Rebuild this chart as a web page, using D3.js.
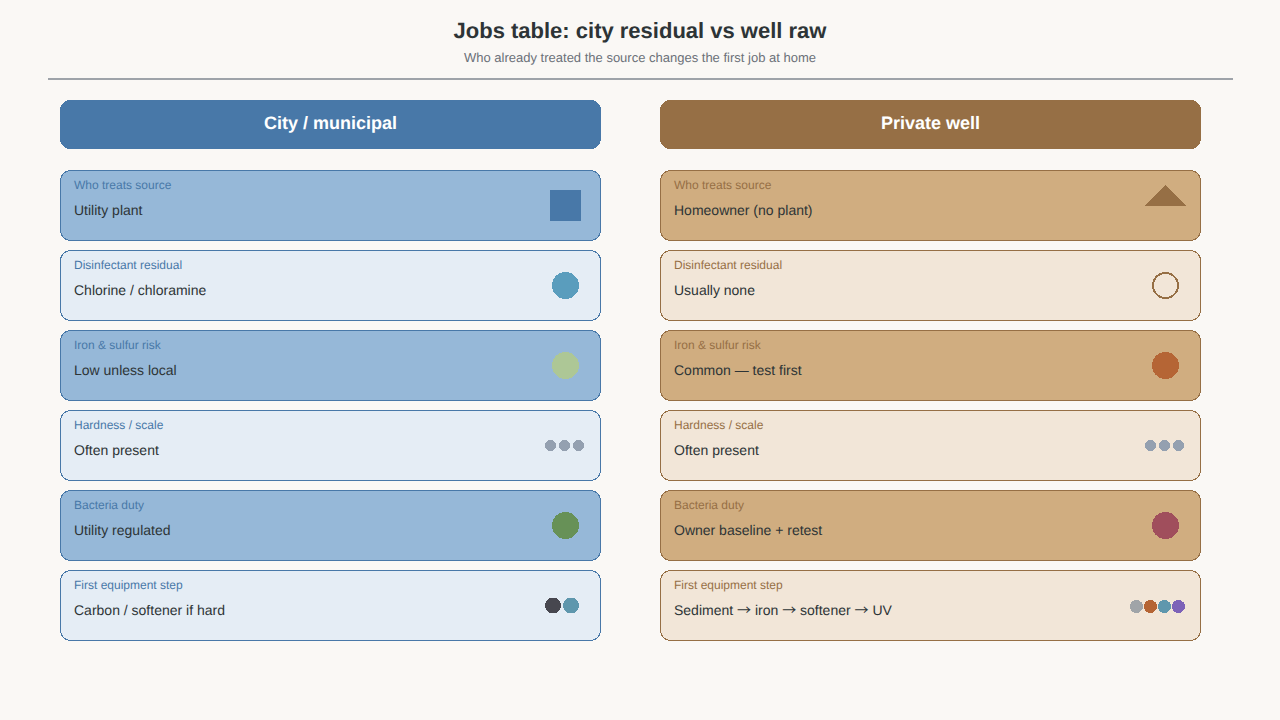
<!DOCTYPE html>
<html>
<head>
<meta charset="utf-8">
<title>Jobs table</title>
<script src="https://cdn.jsdelivr.net/npm/d3@7"></script>
<style>
  @font-face { font-family: "StepArrow"; src: local("Noto Sans CJK SC"); unicode-range: U+2192; }
  html, body { margin: 0; padding: 0; background: #faf8f5; }
  svg { display: block; font-family: StepArrow, Helvetica, Arial, sans-serif; text-rendering: geometricPrecision; }
</style>
</head>
<body>
<div id="chart"></div>
<script>
const titleText = 'Jobs table: city residual vs well raw';
const subtitleText = 'Who already treated the source changes the first job at home';

const jobs = ['Who treats source', 'Disinfectant residual', 'Iron & sulfur risk', 'Hardness / scale', 'Bacteria duty', 'First equipment step'];
const columnNames = ['City / municipal', 'Private well'];
const cityValues = ['Utility plant', 'Chlorine / chloramine', 'Low unless local', 'Often present', 'Utility regulated', 'Carbon / softener if hard'];
const wellValues = ['Homeowner (no plant)', 'Usually none', 'Common — test first', 'Often present', 'Owner baseline + retest', 'Sediment → iron → softener → UV'];
const cityIcons = [['plant'], ['chlorine'], ['lowIron'], ['hard', 'hard', 'hard'], ['regulated'], ['carbon', 'softener']];
const wellIcons = [['home'], ['none'], ['iron'], ['hard', 'hard', 'hard'], ['bacteria'], ['sediment', 'ironStep', 'softener', 'uv']];

const iconColors = {
  plant: '#4878a8', home: '#966f45', chlorine: '#5a9dbd', none: '#966f45', lowIron: '#adc796',
  iron: '#b56535', hard: '#94a0b0', regulated: '#679157', bacteria: '#a04e5c',
  carbon: '#47474f', softener: '#5f97ad', sediment: '#a0a4a8', ironStep: '#b56535', uv: '#7d62b8'
};
const themes = [
  {head: '#4878a8', strong: '#96b8d8', pale: '#e5edf5', line: '#4878a8'},
  {head: '#966f45', strong: '#d0ad80', pale: '#f2e6d8', line: '#966f45'}
];

const width = 1280, height = 720;
const svg = d3.select('#chart').append('svg').attr('width', width).attr('height', height);

svg.append('text').text(titleText)
  .attr('x', 640).attr('y', 38).attr('text-anchor', 'middle')
  .attr('font-size', 22).attr('font-weight', 700).attr('fill', '#2d3436');
svg.append('text').text(subtitleText)
  .attr('x', 640).attr('y', 62).attr('text-anchor', 'middle')
  .attr('font-size', 13).attr('fill', '#6b7078');
svg.append('rect').attr('x', 48).attr('y', 78).attr('width', 1185).attr('height', 2).attr('fill', '#9ea3a9');

// two columns, six rows
const colScale = d3.scaleOrdinal().domain(columnNames).range([60, 660]);
const rowScale = d3.scaleBand().domain(jobs).range([170, 640]).paddingInner(0.125).paddingOuter(0).align(0);
const colWidth = 541;

columnNames.forEach((name, c) => {
  const x0 = colScale(name);
  const theme = themes[c];
  const values = c === 0 ? cityValues : wellValues;
  const icons = c === 0 ? cityIcons : wellIcons;
  const col = svg.append('g').attr('transform', `translate(${x0},0)`);

  col.append('rect').attr('x', 0).attr('y', 100).attr('width', colWidth).attr('height', 49)
    .attr('rx', 10).attr('fill', theme.head).attr('shape-rendering', 'crispEdges');
  col.append('text').text(name)
    .attr('x', colWidth / 2).attr('y', 129).attr('text-anchor', 'middle')
    .attr('font-size', 18).attr('font-weight', 700).attr('fill', '#ffffff');

  const rows = col.selectAll('.row').data(jobs).enter().append('g')
    .attr('class', 'row')
    .attr('transform', d => `translate(0,${rowScale(d)})`);

  rows.append('rect')
    .attr('x', 0.5).attr('y', 0.5).attr('width', colWidth - 1).attr('height', 70)
    .attr('rx', 10)
    .attr('fill', (d, i) => i % 2 === 0 ? theme.strong : theme.pale)
    .attr('stroke', theme.line).attr('stroke-width', 1)
    .attr('shape-rendering', 'crispEdges');
  rows.append('text').text(d => d)
    .attr('x', 14).attr('y', 19).attr('font-size', 12).attr('fill', theme.line);
  rows.append('text').text((d, i) => values[i])
    .attr('x', 14).attr('y', 45).attr('font-size', 14).attr('fill', '#2d3436');

  rows.each(function(d, i) {
    drawIcons(d3.select(this), icons[i]);
  });
});

function drawIcons(g, tokens) {
  const cx = 505.5;
  const cy = 35.5;
  if (tokens[0] === 'plant') {
    g.append('rect').attr('x', cx - 15.5).attr('y', cy - 15.5).attr('width', 31).attr('height', 31)
      .attr('fill', iconColors.plant).attr('shape-rendering', 'crispEdges');
  } else if (tokens[0] === 'home') {
    g.append('path').attr('d', `M${cx - 21},${cy + 0.5}L${cx},${cy - 21}L${cx + 21},${cy + 0.5}Z`)
      .attr('fill', iconColors.home).attr('shape-rendering', 'crispEdges');
  } else if (tokens[0] === 'none') {
    g.append('circle').attr('cx', cx).attr('cy', cy).attr('r', 12.5)
      .attr('fill', 'none').attr('stroke', iconColors.none).attr('stroke-width', 2)
      .attr('shape-rendering', 'crispEdges');
  } else if (tokens.length === 1) {
    g.append('circle').attr('cx', cx).attr('cy', cy).attr('r', 13.5)
      .attr('fill', iconColors[tokens[0]]).attr('shape-rendering', 'crispEdges');
  } else {
    // row of small dots
    const layouts = {
      3: {x: [490.5, 504.5, 518.5], r: 5.5, y: cy},
      2: {x: [493, 511], r: 8, y: cy},
      4: {x: [476.5, 490.5, 504.5, 518.5], r: 6.5, y: cy + 1}
    };
    const lay = layouts[tokens.length];
    g.selectAll('circle').data(tokens).enter().append('circle')
      .attr('cx', (t, i) => lay.x[i]).attr('cy', lay.y).attr('r', lay.r)
      .attr('fill', t => iconColors[t]).attr('shape-rendering', 'crispEdges');
  }
}
</script>
</body>
</html>
